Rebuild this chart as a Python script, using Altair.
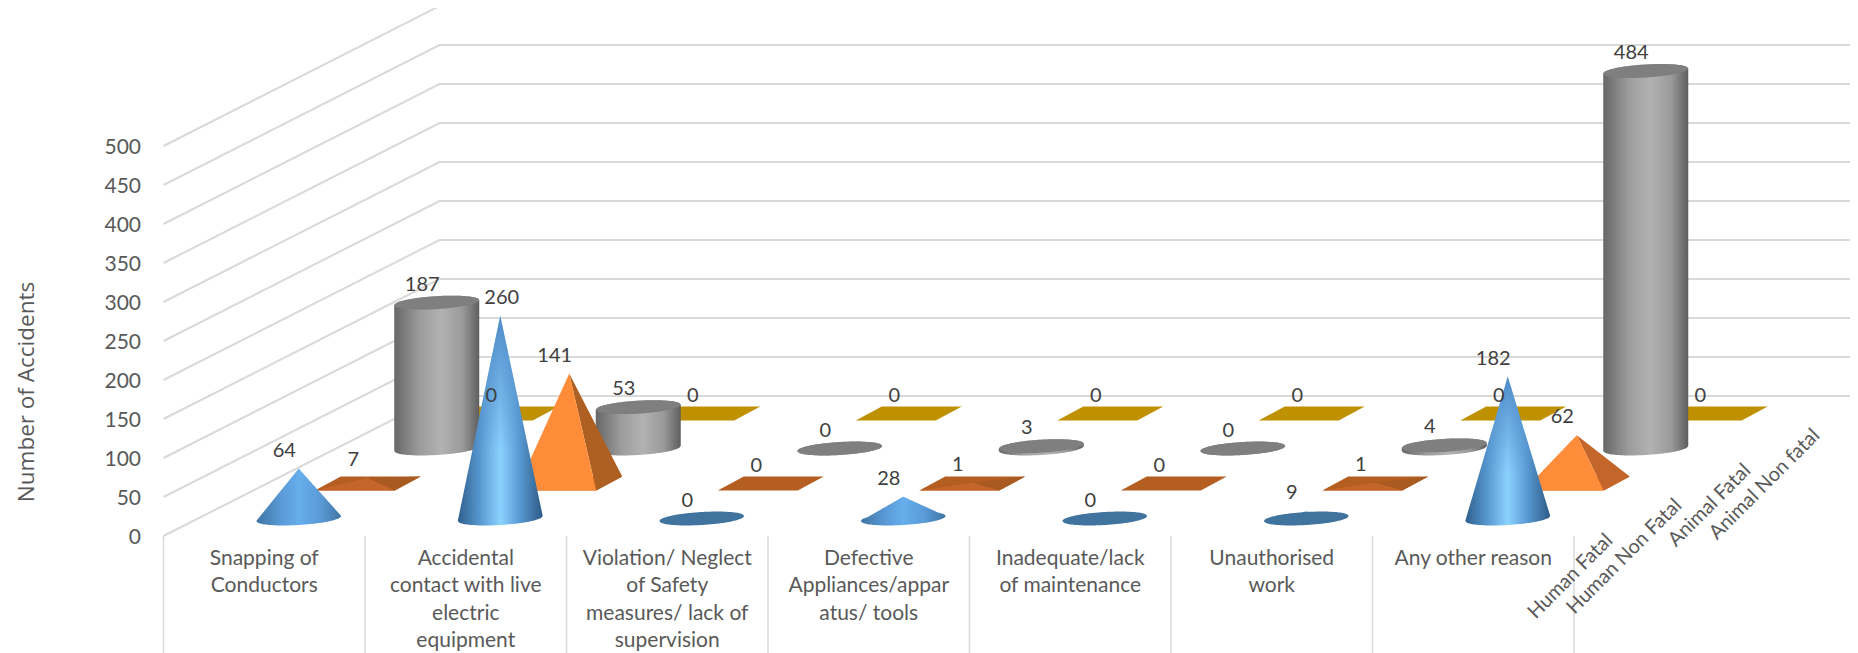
import altair as alt
import numpy as np
import pandas as pd

# ---- data ----
categories = [
    ["Snapping of", "Conductors"],
    ["Accidental", "contact with live", "electric", "equipment"],
    ["Violation/ Neglect", "of Safety", "measures/ lack of", "supervision"],
    ["Defective", "Appliances/appar", "atus/ tools"],
    ["Inadequate/lack", "of maintenance"],
    ["Unauthorised", "work"],
    ["Any other reason"],
]
series_names = ["Human Fatal", "Human Non Fatal", "Animal Fatal", "Animal Non fatal"]
human_fatal = [64, 260, 0, 28, 0, 9, 182]
human_non_fatal = [7, 141, 0, 1, 0, 1, 62]
animal_fatal = [187, 53, 0, 3, 0, 4, 484]
animal_non_fatal = [0, 0, 0, 0, 0, 0, 0]
value_ticks = [0, 50, 100, 150, 200, 250, 300, 350, 400, 450, 500]
label_nudge = {(0, 1): 16}   # (series, category) label moved in the original

# ---- oblique projection ----
M = 8
W, H = 1842, 645
FX0, FY0 = 163.5, 536.0   # front-left floor corner on the page
CAT_W = 201.5
DX, DY = 276.0, -140.0
PPU = 0.78
RX, RY, TILT = 42.5, 6.5, 2.5
A, S, D = 40.0, 13.0, 7.0


def base(c, s):
    f = (s + 0.5) / 4
    return FX0 + (c + 0.5) * CAT_W + f * DX, FY0 + f * DY


def convex_rows(pts, pid, fill):
    pts = list(pts)
    xs = sorted({round(p[0], 3) for p in pts})
    rows = []
    n = len(pts)
    for i, x in enumerate(xs):
        ys = []
        for k in range(n):
            (x0, y0), (x1, y1) = pts[k], pts[(k + 1) % n]
            lo, hi = min(x0, x1), max(x0, x1)
            if lo - 1e-3 <= x <= hi + 1e-3:
                if abs(x1 - x0) < 1e-6:
                    ys += [y0, y1]
                else:
                    ys.append(y0 + (y1 - y0) * (x - x0) / (x1 - x0))
        rows.append(dict(x=x - M, y=min(ys) - M, y2=max(ys) - M, i=i, pid=pid, fill=fill))
    return rows


def ell_rows(cx, cy, pid, top=None, fill=""):
    rows = []
    for i, u in enumerate(np.linspace(-1, 1, 61)):
        r = float(np.sqrt(max(0, 1 - u * u)))
        u = float(u)
        up = cy - RY * r - TILT * u
        low = cy + RY * r - TILT * u
        if top is not None:
            up = min(up, top(u))
        rows.append(dict(x=cx + RX * u - M, y=up - M, y2=low - M, i=i, pid=pid, fill=fill))
    return rows


# --- build shape tables ---
cone_rows, pyr_rows, plane_rows, cyl_rows, cyl_top_rows = [], [], [], [], []
for c, v in enumerate(human_fatal):
    cx, cy = base(c, 0)
    tip = cy - v * PPU
    def top(u, cy=cy, tip=tip):
        end = cy + TILT if u < 0 else cy - TILT
        return tip + (end - tip) * abs(u)
    tier = "tall" if v >= 100 else ("mid" if v >= 20 else "flat")
    cone_rows += ell_rows(cx, cy, f"cone{c}", top=top if v > 0 else None, fill=tier)

for c, v in enumerate(human_non_fatal):
    cx, cy = base(c, 1)
    fl, fr = (cx - A - S, cy + D), (cx + A - S, cy + D)
    br, bl = (cx + A + S, cy - D), (cx - A + S, cy - D)
    apex = (cx, cy - v * PPU)
    big = v >= 50
    pyr_rows += convex_rows([fl, fr, br, bl], f"p{c}b", "#B55E22")
    if v > 0:
        right = "#C4662A" if 50 <= v < 100 else ("#AE5F22" if big else "#A85A20")
        pyr_rows += convex_rows([fr, br, apex], f"p{c}r", right)
        pyr_rows += convex_rows([fl, fr, apex], f"p{c}f", "#FF8C38" if big else "#C4652A")

for c, v in enumerate(animal_fatal):
    cx, cy = base(c, 2)
    ty = cy - v * PPU
    for i, u in enumerate(np.linspace(-1, 1, 61)):
        u = float(u)
        r = float(np.sqrt(max(0, 1 - u * u)))
        cyl_rows.append(dict(x=cx + RX * u - M, y=ty - RY * r - TILT * u - M,
                             y2=cy + RY * r - TILT * u - M, i=i, pid=f"c{c}"))
    cyl_top_rows += ell_rows(cx, ty, f"t{c}", fill="#7F7F7F")

for c, v in enumerate(animal_non_fatal):
    cx, cy = base(c, 3)
    cy -= v * PPU
    plane_rows += convex_rows([(cx - A - S, cy + D), (cx + A - S, cy + D),
                               (cx + A + S, cy - D), (cx - A + S, cy - D)], f"a{c}", "#BF9000")

grid_rows = []
for v in value_ticks:
    y = FY0 - v * PPU
    for i, (px, py) in enumerate([(FX0, y), (FX0 + DX, y + DY),
                                  (FX0 + DX + len(categories) * CAT_W, y + DY)]):
        grid_rows.append(dict(x=px - M, y=py - M, i=i, v=v))

divider_rows = [dict(x=FX0 + k * CAT_W - M, y=FY0 - M, y2=H)
                for k in range(len(categories) + 1)]

cat_text = []
for c, lines in enumerate(categories):
    for j, t in enumerate(lines):
        cat_text.append(dict(x=FX0 + (c + 0.5) * CAT_W - M, y=558.5 + 27.6 * j - M, t=t))

tick_text = [dict(x=141 - M, y=FY0 - v * PPU + 1.5 - M, t=str(v)) for v in value_ticks]

depth_text = []
for s, name in enumerate(series_names):
    f = (s + 0.5) / 4
    depth_text.append(dict(x=FX0 + len(categories) * CAT_W + f * DX + 1 - M,
                           y=FY0 + f * DY + 19 - M, t=name))

value_text = []
for s, vals in enumerate([human_fatal, human_non_fatal, animal_fatal, animal_non_fatal]):
    for c, v in enumerate(vals):
        cx, cy = base(c, s)
        value_text.append(dict(x=cx - 14.5 + label_nudge.get((s, c), 0) - M,
                               y=cy - v * PPU - 18 - M, t=str(v)))

# --- marks ---
X = alt.X("x:Q", scale=alt.Scale(domain=[0, W], range=[0, W], nice=False, zero=False), axis=None)
Y = alt.Y("y:Q", scale=alt.Scale(domain=[0, H], range=[0, H], nice=False, zero=False), axis=None)


def grad(stops, vertical=False):
    return alt.Gradient(gradient="linear", x1=0, x2=0 if vertical else 1, y1=0, y2=1 if vertical else 0,
                        stops=[alt.GradientStop(offset=o, color=c) for o, c in stops])


def area(rows, color=None):
    mark = alt.Chart(pd.DataFrame(rows))
    if color is None:
        return mark.mark_area(opacity=1).encode(X, Y, alt.Y2("y2:Q"), detail="pid:N",
                                                 color=alt.Color("fill:N", scale=None))
    return mark.mark_area(color=color, opacity=1).encode(X, Y, alt.Y2("y2:Q"), detail="pid:N")


def text(rows, **kw):
    return alt.Chart(pd.DataFrame(rows)).mark_text(**kw).encode(X, Y, text="t:N")


cone_df = pd.DataFrame(cone_rows)
tall = cone_df[cone_df.fill == "tall"].to_dict("records")
mid = cone_df[cone_df.fill == "mid"].to_dict("records")
flat = cone_df[cone_df.fill == "flat"].to_dict("records")

layers = [
    alt.Chart(pd.DataFrame(grid_rows)).mark_line(color="#D9D9D9", strokeWidth=2).encode(X, Y, detail="v:N"),
    alt.Chart(pd.DataFrame(divider_rows)).mark_rule(color="#D9D9D9", strokeWidth=1.5).encode(X, Y, alt.Y2("y2:Q")),
    area(plane_rows),
    area(cyl_rows, grad([(0, "#676767"), (0.3, "#9C9C9C"), (0.55, "#B2B2B2"), (0.8, "#9A9A9A"), (1, "#5E5E5E")])),
    area(cyl_top_rows),
    area(pyr_rows),
    area(flat, "#41739F"),
    area(mid, grad([(0, "#3F74A3"), (0.3, "#5A9BD8"), (0.5, "#66AEEC"), (0.75, "#5A9BD8"), (1, "#3F74A3")])),
    area(tall, grad([(0, "#2F5F8C"), (0.25, "#5595CE"), (0.5, "#8CD2FF"), (0.72, "#5A9CD6"), (1, "#2C5A85")])),
    area(tall, grad([(0, "rgba(80,140,200,1)"), (0.65, "rgba(80,140,200,0)"), (1, "rgba(80,140,200,0)")], vertical=True)),
    text(cat_text, font="Lato", fontSize=21, color="#595959", align="center", baseline="middle"),
    text(tick_text, font="Lato", fontSize=21, color="#595959", align="right", baseline="middle"),
    text(depth_text, font="Lato", fontSize=20, color="#595959", align="right", baseline="middle", angle=315),
    text(value_text, font="Lato", fontSize=20, color="#404040", align="center", baseline="middle"),
    text([dict(x=27 - M, y=392 - M, t="Number of Accidents")], font="Open Sans", fontSize=22.5,
         color="#595959", align="center", baseline="middle", angle=270),
]

chart = alt.layer(*layers).properties(
    width=W, height=H, padding=0, background="white",
    autosize=alt.AutoSizeParams(type="none"),
).configure_view(stroke=None)

chart.save("out.html", embed_options={"renderer": "svg", "actions": False})
